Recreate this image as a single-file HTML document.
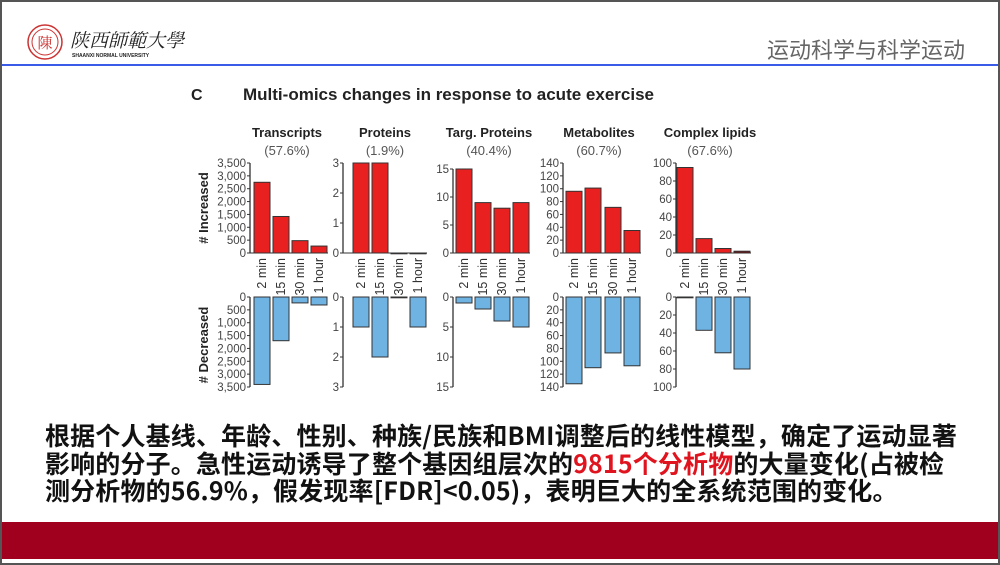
<!DOCTYPE html>
<html><head><meta charset="utf-8"><style>
body{margin:0;width:1000px;height:565px;overflow:hidden;background:#fff;font-family:"Liberation Sans","Noto Sans CJK SC",sans-serif}
#slide{position:absolute;left:0;top:0;width:996px;height:561px;border:2px solid #555;}
.body{position:absolute;left:45px;top:422px;width:950px;white-space:nowrap;font-size:25px;line-height:27.5px;letter-spacing:0.15px;font-weight:bold;color:#111;font-family:"Noto Sans CJK SC",sans-serif}
</style></head><body>
<div id="slide"></div>
<svg width="1000" height="565" style="position:absolute;left:0;top:0" font-family="Liberation Sans, Noto Sans CJK SC, sans-serif">
<circle cx="45" cy="42" r="17" fill="none" stroke="#c33" stroke-width="1.5"/>
<circle cx="45" cy="42" r="13" fill="none" stroke="#c33" stroke-width="1"/>
<text x="45" y="48" font-size="15" fill="#c33" text-anchor="middle" font-family="Noto Serif CJK SC,serif">陳</text>
<text x="70" y="47" font-size="19" fill="#222" font-family="Noto Serif CJK SC,serif" font-style="italic">陕西師範大學</text>
<text x="72" y="57" font-size="5" fill="#222" font-weight="bold">SHAANXI NORMAL UNIVERSITY</text>
<text x="965" y="58" font-size="22" fill="#666" text-anchor="end" font-family="Noto Sans CJK SC,sans-serif">运动科学与科学运动</text>
<rect x="2" y="64" width="996" height="2" fill="#3a5ae8"/>
<rect x="2" y="522" width="996" height="37" fill="#a0001e"/>
<text x="191" y="100" font-size="16" font-weight="bold" fill="#222">C</text>
<text x="243" y="100" font-size="17" font-weight="bold" fill="#222">Multi-omics changes in response to acute exercise</text>
<g font-size="13" fill="#222" text-anchor="middle">
<text x="287" y="137" font-weight="bold">Transcripts</text><text x="287" y="155" fill="#555">(57.6%)</text>
<text x="385" y="137" font-weight="bold">Proteins</text><text x="385" y="155" fill="#555">(1.9%)</text>
<text x="489" y="137" font-weight="bold">Targ. Proteins</text><text x="489" y="155" fill="#555">(40.4%)</text>
<text x="599" y="137" font-weight="bold">Metabolites</text><text x="599" y="155" fill="#555">(60.7%)</text>
<text x="710" y="137" font-weight="bold">Complex lipids</text><text x="710" y="155" fill="#555">(67.6%)</text>
</g>
<text transform="translate(208,208) rotate(-90)" font-size="13" font-weight="bold" text-anchor="middle" fill="#222"># Increased</text>
<text transform="translate(208,345) rotate(-90)" font-size="13" font-weight="bold" text-anchor="middle" fill="#222"># Decreased</text>
<g id="charts" font-size="11.5" fill="#444"></g>
</svg>
<div class="body">根据个人基线、年龄、性别、种族/民族和BMI调整后的线性模型，确定了运动显著<br>影响的分子。急性运动诱导了整个基因组层次的<span style="color:#e0141e">9815个分析物</span>的大量变化(占被检<br>测分析物的56.9%，假发现率[FDR]&lt;0.05)，表明巨大的全系统范围的变化。</div>
<script>
const C=[
{ax:250,bx:[254,273,292,311],top:3500,topY:163,ticks:[0,500,1000,1500,2000,2500,3000,3500],up:[2750,1420,480,270],dn:[3400,1700,230,310],fmt:1},
{ax:343,bx:[353,372,391,410],top:3,topY:163,ticks:[0,1,2,3],up:[3,3,0,0],dn:[1,2,0,1]},
{ax:453,bx:[456,475,494,513],top:15,topY:169,ticks:[0,5,10,15],up:[15,9,8,9],dn:[1,2,4,5],btop:15},
{ax:563,bx:[566,585,605,624],top:140,topY:163,ticks:[0,20,40,60,80,100,120,140],up:[96,101,71,35],dn:[135,110,87,107]},
{ax:676,bx:[677,696,715,734],top:100,topY:163,ticks:[0,20,40,60,80,100],up:[95,16,5,2],dn:[0,37,62,80]}];
const labs=["2 min","15 min","30 min","1 hour"];let s="";
const f=(v,c)=>c.fmt?v.toLocaleString("en-US"):v;
C.forEach(c=>{const b0=253,t0=297,bt=c.btop||c.top;
s+=`<line x1="${c.ax}" y1="${c.topY}" x2="${c.ax}" y2="${b0}" stroke="#333" stroke-width="1.3"/>`;
s+=`<line x1="${c.ax}" y1="${t0}" x2="${c.ax}" y2="387" stroke="#333" stroke-width="1.3"/>`;
s+=`<line x1="${c.ax}" y1="${b0}" x2="${c.bx[3]+17}" y2="${b0}" stroke="#333" stroke-width="1"/>`;
c.ticks.forEach(t=>{let y=b0-(b0-c.topY)*t/c.top;s+=`<line x1="${c.ax-3}" x2="${c.ax}" y1="${y}" y2="${y}" stroke="#333"/><text x="${c.ax-4}" y="${y+4}" text-anchor="end">${f(t,c)}</text>`;
let y2=t0+90*t/bt;s+=`<line x1="${c.ax-3}" x2="${c.ax}" y1="${y2}" y2="${y2}" stroke="#333"/><text x="${c.ax-4}" y="${y2+4}" text-anchor="end">${f(t,c)}</text>`;});
c.bx.forEach((x,i)=>{let h=(b0-c.topY)*c.up[i]/c.top;let col=(c.ax==676&&i==3)?"#7a1010":"#e8201f";
s+=`<rect x="${x}" y="${b0-h}" width="16" height="${Math.max(h,0.8)}" fill="${col}" stroke="#333" stroke-width="1"/>`;
let h2=90*c.dn[i]/bt;s+=`<rect x="${x}" y="${t0}" width="16" height="${Math.max(h2,0.8)}" fill="#6fb3e3" stroke="#333" stroke-width="1"/>`;
s+=`<text transform="translate(${x+12},258) rotate(-90)" text-anchor="end" font-size="12.5" fill="#333">${labs[i]}</text>`;});});
document.getElementById("charts").innerHTML=s;
</script>
</body></html>
